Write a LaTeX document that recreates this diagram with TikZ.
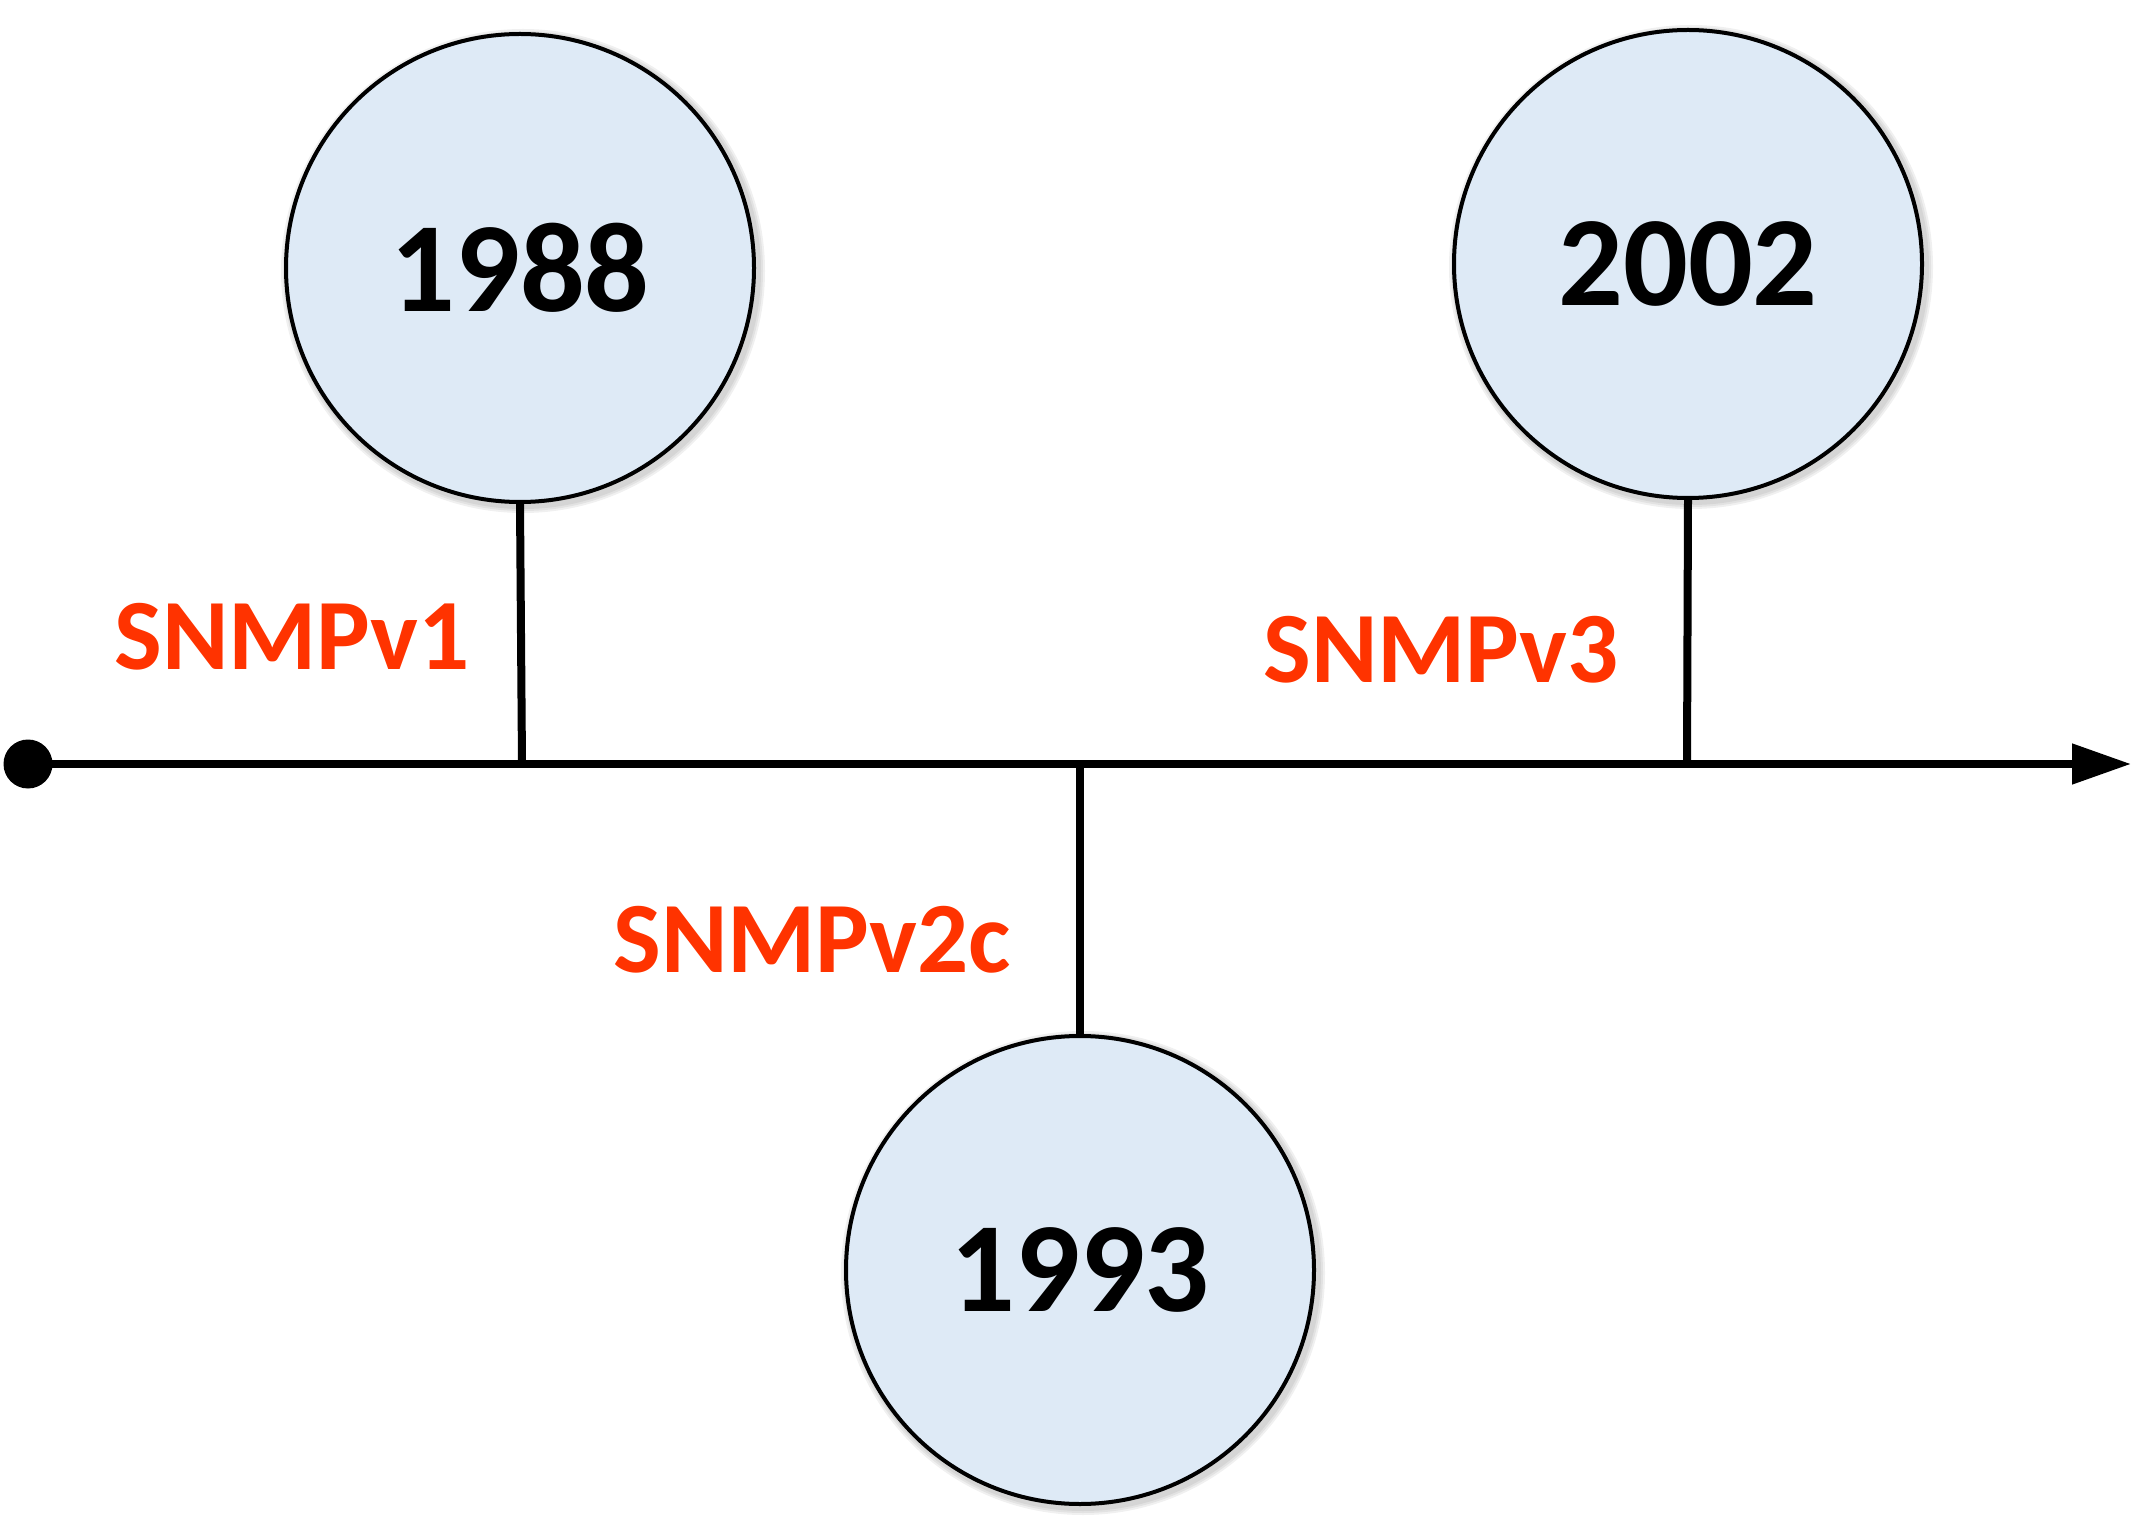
\documentclass[tikz,border=0pt]{standalone}
\usepackage{fontspec}
\setmainfont{Carlito}
\usetikzlibrary{arrows.meta}
\definecolor{bubble}{HTML}{DEEAF6}
\definecolor{labelred}{HTML}{FF3300}
\tikzset{
  year/.style={circle, draw=black, line width=2pt, fill=bubble, minimum size=234pt, inner sep=0pt,
    font=\bfseries\fontsize{64}{70}\selectfont},
  vlabel/.style={text=labelred, inner sep=0pt, font=\bfseries\fontsize{50.5}{60}\selectfont},
  stem/.style={line width=4pt},
  axis/.style={line width=4pt, -{Triangle[length=29.5pt,width=19.5pt]}},
  shadowc/.style={fill=black, opacity=0.06, draw=none}
}
\begin{document}
\begin{tikzpicture}[x=0.5pt,y=-0.5pt]
\useasboundingbox (0,0) rectangle (2133,1535);
% soft shadows
\foreach \cx/\cy in {520/268, 1688/264, 1080/1270}{
  \foreach \d in {2,4,6}{
    \fill[shadowc] (\cx+3,\cy+3) circle[radius=236+\d];
  }
}
\node[year] (y1988) at (520,268) {1988};
\node[year] (y2002) at (1688,264) {2002};
\node[year] (y1993) at (1080,1270) {1993};
\node[circle, fill=black, minimum size=24.5pt, inner sep=0pt] (start) at (28,764) {};
\coordinate (end) at (2131,764);
\coordinate (t1) at (522,764);
\coordinate (t2) at (1080,764);
\coordinate (t3) at (1687,764);
\draw[stem] (y1988.south) -- (t1);
\draw[stem] (y2002.south) -- (t3);
\draw[stem] (y1993.north) -- (t2);
\draw[axis] (start.center) -- (end);
\node[vlabel] (v1) at (292,637) {SNMPv1};
\node[vlabel] (v3) at (1441,650) {SNMPv3};
\node[vlabel] (v2c) at (812,940) {SNMPv2c};
\end{tikzpicture}
\end{document}
